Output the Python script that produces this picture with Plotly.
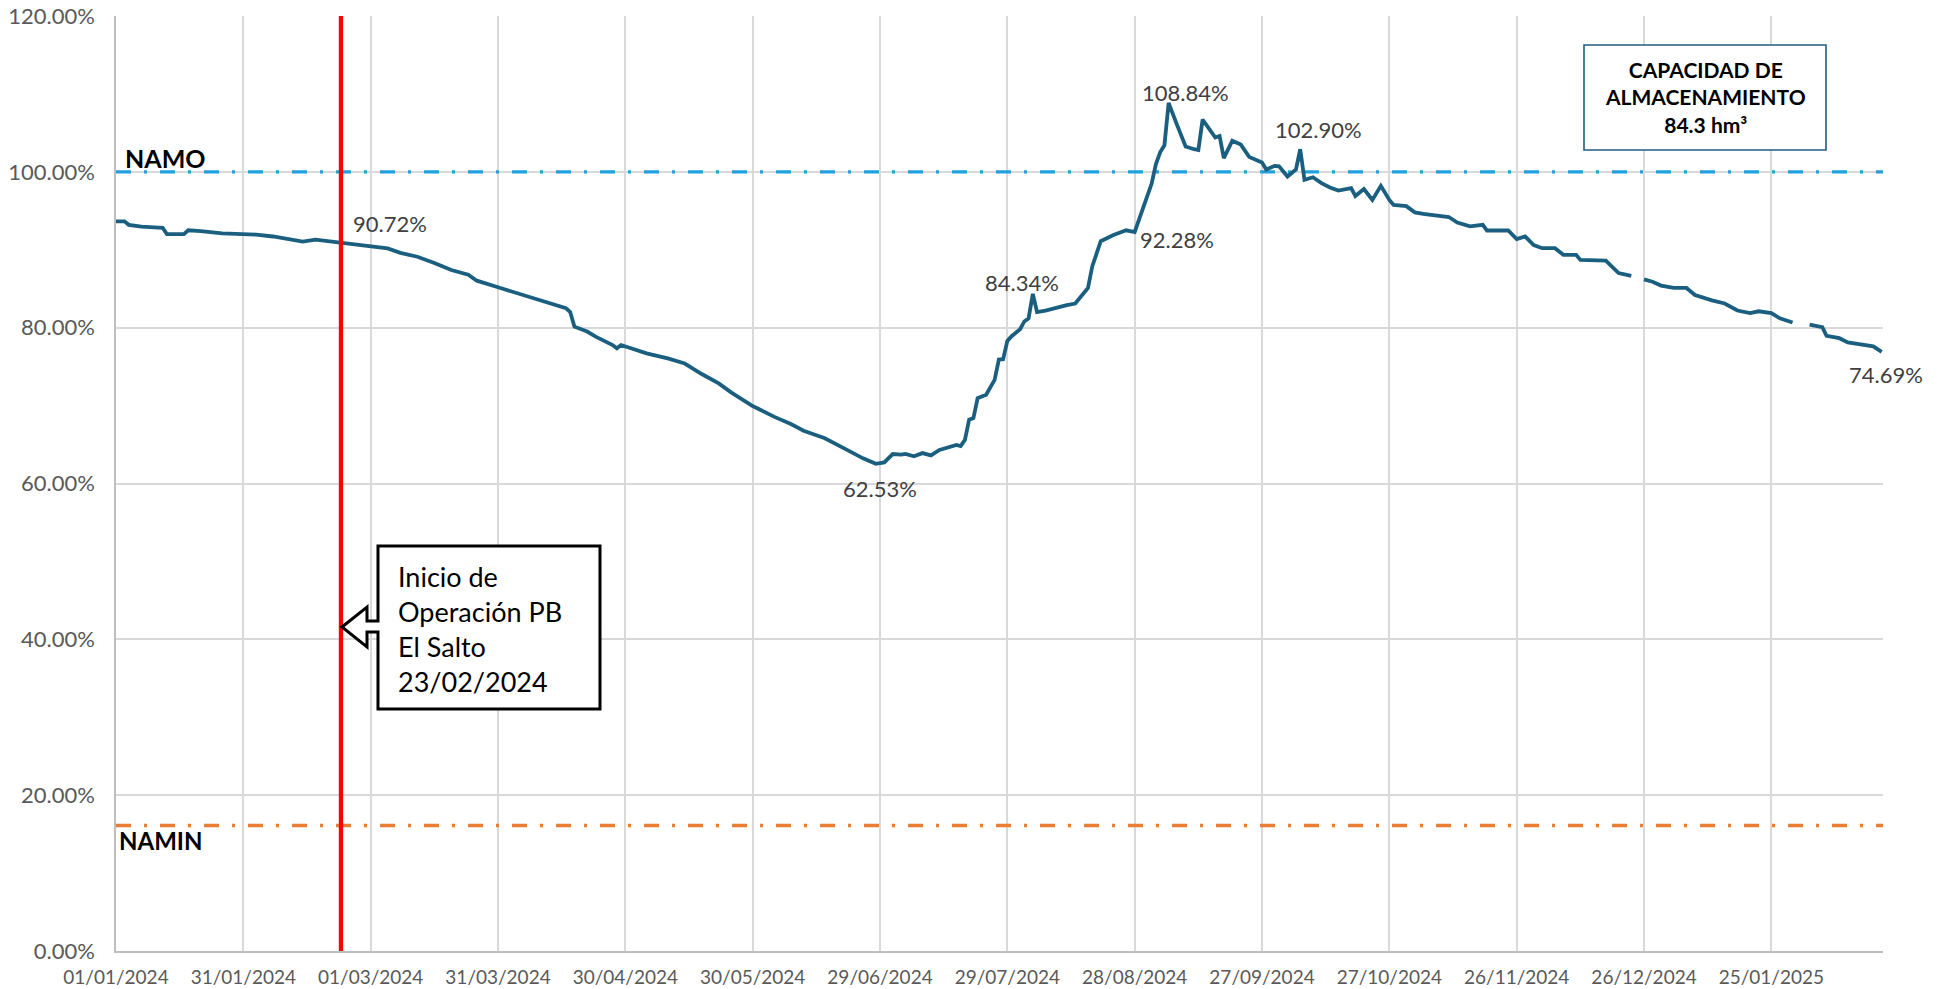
import pandas as pd
import plotly.graph_objects as go

# ---------------- DATA ----------------
inicio = pd.Timestamp("2024-01-01")
fin_eje = inicio + pd.Timedelta(days=416.3)

# days since 01/01/2024
dias = [0, 2, 3, 6, 10, 11, 12, 16, 17, 20, 25, 30, 33, 37, 41, 44, 47, 51, 53, 55,
        59, 60, 64, 67, 71, 75, 79, 83, 85, 90, 96, 101, 104, 106, 107, 108, 111, 113, 117, 118,
        119, 125, 130, 134, 138, 142, 145, 150, 155, 159, 162, 167, 172, 176, 179, 181, 183, 185, 186, 188,
        190, 192, 194, 196, 198, 199, 200, 201, 202, 203, 205, 207, 208, 209, 210, 211, 213, 214, 215, 216,
        217, 219, 221, 224, 226, 228, 229, 230, 232, 235, 238, 240, 241, 244, 245, 246, 247, 248, 250, 252,
        254, 255, 256, 258, 259, 260, 261, 263, 265, 267, 269, 270, 271, 273, 274, 276, 278, 279, 280, 282,
        284, 286, 288, 291, 292, 294, 296, 298, 300, 301, 304, 306, 308, 311, 314, 316, 319, 322, 323, 328,
        330, 332, 334, 336, 339, 341, 344, 345, 351, 354, 357, 358, 360, 362, 364, 367, 370, 372, 376, 379,
        382, 385, 387, 390, 392, 395, 397, 399, 402, 403, 406, 408, 411, 414, 416]

porcentaje = [93.65, 93.65, 93.2, 92.97, 92.84, 92.8, 92.0, 92.0, 92.5, 92.4, 92.1, 91.98, 91.95, 91.7, 91.34, 91.04, 91.3, 91.04, 90.95, 90.83,
              90.6, 90.48, 90.18, 89.6, 89.1, 88.3, 87.4, 86.8, 86.03, 85.18, 84.19, 83.42, 82.8, 82.5, 82.0, 80.13, 79.5, 78.84, 77.77, 77.35,
              77.77, 76.7, 76.06, 75.4, 74.05, 72.85, 71.66, 69.94, 68.58, 67.63, 66.78, 65.8, 64.38, 63.23, 62.53, 62.7, 63.78, 63.7, 63.8, 63.5,
              63.9, 63.6, 64.3, 64.6, 64.95, 64.8, 65.6, 68.2, 68.4, 70.95, 71.4, 73.3, 75.9, 75.95, 78.3, 78.9, 79.8, 80.8, 81.2, 84.34,
              82.0, 82.2, 82.5, 82.9, 83.1, 84.5, 85.1, 87.85, 91.1, 91.9, 92.5, 92.28, 93.8, 98.5, 101.0, 102.5, 103.4, 108.84, 106.0, 103.25,
              102.9, 102.8, 106.7, 105.2, 104.4, 104.6, 101.75, 104.0, 103.5, 101.9, 101.5, 101.2, 100.3, 100.77, 100.7, 99.4, 100.3, 102.9, 98.97, 99.3,
              98.55, 98.0, 97.6, 97.9, 96.9, 97.8, 96.4, 98.2, 96.4, 95.76, 95.6, 94.8, 94.6, 94.35, 94.2, 93.5, 93.0, 93.2, 92.47, 92.47,
              91.36, 91.7, 90.6, 90.2, 90.2, 89.35, 89.35, 88.7, 88.6, 87.0, 86.65, None, 86.2, 85.9, 85.4, 85.1, 85.1, 84.2, 83.5, 83.1,
              82.2, 81.86, 82.1, 81.86, 81.2, 80.66, None, 80.4, 80.06, 78.95, 78.65, 78.1, 77.8, 77.6, 76.9]

NAMO = 100.0
NAMIN = 16.1
fecha_inicio_pb = "2024-02-23"

etiquetas_dias = [53, 179, 216, 240, 248, 279, 416]
etiquetas_texto = ["90.72%", "62.53%", "84.34%", "92.28%", "108.84%", "102.90%", "74.69%"]

y_ticks = [0, 20, 40, 60, 80, 100, 120]
texto_capacidad = "<b>CAPACIDAD DE<br>ALMACENAMIENTO<br>84.3 hm³</b>"
texto_callout = "Inicio de<br>Operación PB<br>El Salto<br>23/02/2024"

# ---------------- LAYOUT GEOMETRY ----------------
W, H = 1946, 989
L, R, T, B = 116, 63, 16, 38
PW, PH = W - L - R, H - T - B
FONT = "Lato, Liberation Sans, sans-serif"


def px(xp):
    return (xp - L) / PW


def py(yp):
    return (H - B - yp) / PH


fechas = [inicio + pd.Timedelta(days=d) for d in dias]

fig = go.Figure()
dash = "15px,13px,3px,13px"
fig.add_trace(go.Scatter(x=[inicio, fin_eje], y=[NAMO, NAMO], mode="lines",
                         line=dict(color="#1fa2dc", width=3.4, dash=dash),
                         showlegend=False, hoverinfo="skip"))
fig.add_trace(go.Scatter(x=[inicio, fin_eje], y=[NAMIN, NAMIN], mode="lines",
                         line=dict(color="#ed7d31", width=3.4, dash=dash),
                         showlegend=False, hoverinfo="skip"))
fig.add_trace(go.Scatter(x=fechas, y=porcentaje, mode="lines",
                         line=dict(color="#1b5f80", width=3.8),
                         connectgaps=False, showlegend=False, hoverinfo="skip"))

fig.add_annotation(text="<b>NAMO</b>", xref="paper", yref="paper", x=px(123), y=py(158),
                   xanchor="left", yanchor="middle", showarrow=False,
                   font=dict(family=FONT, size=25, color="#000000"))
fig.add_annotation(text="<b>NAMIN</b>", xref="paper", yref="paper", x=px(117), y=py(840),
                   xanchor="left", yanchor="middle", showarrow=False,
                   font=dict(family=FONT, size=24, color="#000000"))

# red vertical line
fig.add_shape(type="line", xref="x", yref="paper", x0=fecha_inicio_pb, x1=fecha_inicio_pb,
              y0=0, y1=1, line=dict(color="#ff0000", width=4.3), layer="above")

# data labels
shifts = [(49, 19), (4, -25), (-11, 11), (42, -8), (17, 10), (18, 20), (4, -23)]
for d, t, (sx, sy) in zip(etiquetas_dias, etiquetas_texto, shifts):
    i = dias.index(d)
    fig.add_annotation(x=fechas[i], y=porcentaje[i], text=t, showarrow=False,
                       xshift=sx, yshift=sy, xanchor="center", yanchor="middle",
                       font=dict(family=FONT, size=22, color="#404040"))

# callout shape (box with arrow to the left)
pts = [(342, 627), (367, 607), (367, 621), (378, 621), (378, 546), (600, 546),
       (600, 709), (378, 709), (378, 632), (367, 632), (367, 647)]
path = "M " + " L ".join(f"{px(a):.5f},{py(b):.5f}" for a, b in pts) + " Z"
fig.add_shape(type="path", xref="paper", yref="paper", path=path,
              line=dict(color="#000000", width=3), fillcolor="#ffffff", layer="above")
fig.add_annotation(text=texto_callout, xref="paper", yref="paper", x=px(396), y=py(629),
                   xanchor="left", yanchor="middle", align="left", showarrow=False,
                   font=dict(family=FONT, size=27, color="#000000"))

# capacity box
fig.add_shape(type="rect", xref="paper", yref="paper", x0=px(1584), x1=px(1826),
              y0=py(150), y1=py(45), line=dict(color="#1f5f7f", width=1.6),
              fillcolor="#ffffff", layer="above")
fig.add_annotation(text=texto_capacidad, xref="paper", yref="paper", x=px(1705), y=py(97),
                   xanchor="center", yanchor="middle", align="center", showarrow=False,
                   font=dict(family=FONT, size=21, color="#000000"))

fig.update_layout(
    width=W, height=H, autosize=False,
    margin=dict(l=L, r=R, t=T, b=B, pad=0, autoexpand=False),
    paper_bgcolor="#ffffff", plot_bgcolor="#ffffff",
    font=dict(family=FONT, color="#595959"),
    showlegend=False,
)
fig.update_xaxes(
    type="date", range=[inicio, fin_eje], automargin=False,
    tick0=inicio, dtick=30 * 86400000, tickformat="%d/%m/%Y",
    showgrid=True, gridcolor="#d9d9d9", gridwidth=1.6,
    showline=True, linecolor="#bfbfbf", linewidth=1.6,
    ticks="", ticklabelstandoff=8,
    tickfont=dict(family=FONT, size=19, color="#595959"), zeroline=False,
)
fig.update_yaxes(
    range=[0, 120], tickvals=y_ticks, ticktext=[f"{v:.2f}%" for v in y_ticks],
    automargin=False,
    showgrid=True, gridcolor="#d9d9d9", gridwidth=1.6,
    showline=True, linecolor="#bfbfbf", linewidth=1.6,
    ticks="", ticklabelstandoff=15,
    tickfont=dict(family=FONT, size=22, color="#595959"), zeroline=False,
)

fig.write_html("out.html", config={"displayModeBar": False},
               post_script="document.body.style.margin='0px';document.body.style.padding='0px';")
